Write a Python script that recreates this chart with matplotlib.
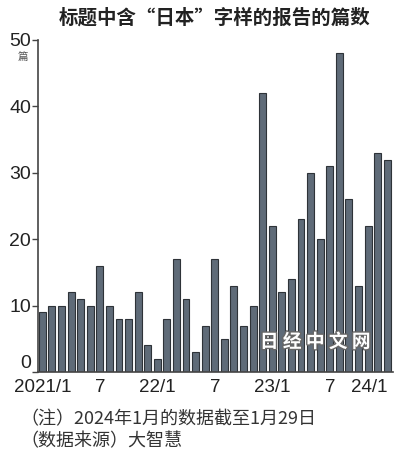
import matplotlib
matplotlib.use('Agg')
import matplotlib.pyplot as plt
import matplotlib.patheffects as pe

# monthly counts, 2021/1 .. 2024/1
months = ['2021/1', '2', '3', '4', '5', '6', '7', '8', '9', '10', '11', '12',
          '22/1', '2', '3', '4', '5', '6', '7', '8', '9', '10', '11', '12',
          '23/1', '2', '3', '4', '5', '6', '7', '8', '9', '10', '11', '12',
          '24/1']
counts = [9, 10, 10, 12, 11, 10, 16, 10, 8, 8, 12, 4,
          2, 8, 17, 11, 3, 7, 17, 5, 13, 7, 10, 42,
          22, 12, 14, 23, 30, 20, 31, 48, 26, 13, 22, 33,
          32]
shown_ticks = [0, 6, 12, 18, 24, 30, 36]
yticks = [0, 10, 20, 30, 40, 50]

title = '标题中含“日本”字样的报告的篇数'
note1 = '（注）2024年1月的数据截至1月29日'
note2 = '（数据来源）大智慧'

cjk = ['Noto Sans CJK SC', 'DejaVu Sans']
num_font = 'Liberation Sans'

fig = plt.figure(figsize=(4.0, 4.66), dpi=100)
ax = fig.add_axes([0.095, 0.2017, 0.8875, 0.7125])

x = list(range(len(counts)))
ax.bar(x, counts, width=0.72, color='#5f6b78', edgecolor='#2e3338', linewidth=0.8)

ax.set_xlim(-0.45, len(counts) - 0.4)
ax.set_ylim(0, 50)
ax.set_yticks(yticks)
ax.set_yticklabels([str(v) for v in yticks], fontsize=14, family=num_font, color='#222222')
ax.set_xticks(shown_ticks)
ax.set_xticklabels([months[i] for i in shown_ticks], fontsize=13.5, family=num_font, color='#222222')
ax.tick_params(axis='x', length=0, pad=5)
ax.tick_params(axis='y', length=4, width=1, pad=1, color='#444444')
ax.get_xticklabels()[-1].set_ha('right')
ax.get_yticklabels()[0].set_va('bottom')

for s in ['top', 'right']:
    ax.spines[s].set_visible(False)
for s in ['left', 'bottom']:
    ax.spines[s].set_color('#444444')
    ax.spines[s].set_linewidth(1.2)

fig.text(0.5375, 0.961, title, ha='center', va='center', fontsize=14,
         fontweight='bold', family=cjk, color='#222222')
fig.text(0.057, 0.877, '篇', ha='center', va='center', fontsize=7.5,
         family=cjk, color='#555555')
fig.text(0.052, 0.101, note1, ha='left', va='center', fontsize=13,
         family=cjk, color='#333333')
fig.text(0.052, 0.054, note2, ha='left', va='center', fontsize=13,
         family=cjk, color='#333333')

# watermark
fig.text(0.788, 0.266, '日 经 中 文 网', ha='center', va='center', fontsize=13.5,
         fontweight='bold', family=cjk, color='white',
         path_effects=[pe.withStroke(linewidth=2, foreground='#666666')])

fig.savefig('out.png', dpi=100)
